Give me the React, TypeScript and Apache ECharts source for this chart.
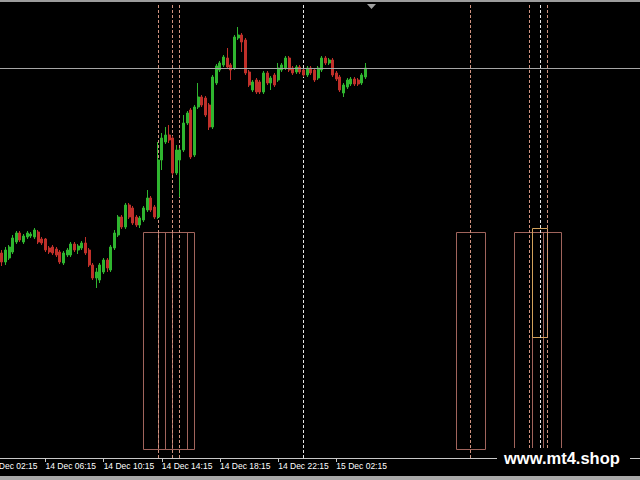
import { useEffect, useRef } from "react";
import * as echarts from "echarts";

// ---- time slots (15-minute bars) ----
const SLOT_COUNT = 176;
const FIRST_DAY = 14;
const FIRST_BAR_MINUTES = 3 * 60 + 15; // 14 Dec 03:15
const BAR_MINUTES = 15;

// ---- OHLC (price units) ----
const OPEN = [205, 196, 200, 206, 216, 225, 216, 221, 222, 221, 226, 219, 219, 210, 211, 209, 206, 195, 203, 203, 214, 208, 210, 215, 208, 193, 180, 178, 186, 198, 188, 210, 223, 241, 231, 253, 250, 241, 233, 238, 248, 260, 251, 241, 298, 316, 323, 320, 285, 298, 308, 335, 348, 303, 351, 361, 360, 353, 331, 375, 388, 393, 400, 393, 390, 420, 423, 418, 386, 368, 378, 376, 366, 385, 375, 383, 378, 388, 390, 400, 390, 386, 391, 388, 383, 390, 388, 380, 388, 400, 395, 398, 385, 381, 365, 371, 374, 379, 378, 375, 381];
const CLOSE = [196, 208, 211, 220, 225, 218, 222, 225, 224, 228, 216, 215, 208, 206, 205, 203, 196, 205, 208, 214, 208, 212, 215, 205, 193, 180, 186, 193, 198, 190, 211, 225, 241, 231, 253, 241, 235, 233, 240, 250, 260, 248, 241, 298, 320, 323, 318, 285, 308, 308, 335, 345, 301, 351, 361, 353, 343, 331, 381, 392, 395, 401, 391, 388, 421, 423, 416, 385, 373, 376, 366, 366, 385, 375, 380, 373, 390, 393, 400, 388, 385, 391, 386, 383, 390, 385, 378, 390, 400, 395, 398, 383, 379, 368, 373, 378, 379, 374, 374, 383, 390];
const LOW = [192, 193, 198, 204, 214, 216, 214, 219, 220, 219, 214, 213, 206, 204, 203, 201, 194, 193, 201, 201, 206, 204, 208, 203, 191, 178, 170, 175, 184, 186, 186, 208, 221, 229, 229, 239, 233, 231, 230, 236, 246, 246, 239, 239, 288, 314, 315, 283, 283, 261, 306, 333, 299, 301, 349, 351, 341, 328, 329, 373, 386, 391, 389, 378, 388, 418, 406, 383, 371, 366, 364, 364, 364, 373, 368, 371, 376, 386, 388, 386, 383, 384, 384, 381, 381, 383, 376, 378, 386, 393, 393, 381, 377, 366, 361, 369, 372, 372, 372, 373, 379];
const HIGH = [208, 211, 213, 223, 227, 227, 224, 227, 226, 230, 228, 221, 220, 212, 213, 211, 208, 207, 210, 216, 216, 214, 217, 221, 210, 195, 190, 195, 200, 200, 213, 228, 243, 243, 255, 255, 252, 243, 242, 252, 268, 262, 253, 316, 325, 331, 333, 322, 313, 310, 343, 347, 350, 353, 375, 363, 362, 355, 383, 394, 397, 403, 410, 395, 423, 431, 425, 420, 388, 378, 380, 378, 387, 387, 382, 385, 395, 395, 402, 402, 392, 393, 393, 390, 392, 392, 390, 392, 402, 402, 400, 400, 387, 383, 375, 380, 381, 381, 380, 385, 395];

// ---- axis ----
const Y_MIN = 0;
const Y_MAX = 458;
const TICK_FIRST = 12; // 14 Dec 06:15
const TICK_STEP = 16; // every 4 hours
const PREV_TICK_LABEL = "14 Dec 02:15";
const WATERMARK = "www.mt4.shop";

// ---- objects ----
const LEVEL_PRICE = 390;
const BOX_TOP = 226;
const BOX_BOTTOM = 9;
const BOXES = [
  [39, 47],
  [43, 51],
  [45, 53],
  [125, 133],
  [141, 149],
  [146, 154],
];
const HILITE = { from: 146, to: 150, top: 230, bottom: 121 };
const DASH_SALMON = [43, 47, 49, 129, 145, 150];
const DASH_WHITE = [83, 148];
const VLINE_TOP = 453;
const VLINE_BOTTOM = 0;

const CATEGORIES = Array.from({ length: SLOT_COUNT }, (_, i) => {
  const m = FIRST_BAR_MINUTES + i * BAR_MINUTES;
  const day = FIRST_DAY + Math.floor(m / 1440);
  const hh = Math.floor((m % 1440) / 60);
  const mm = m % 60;
  return `${day} Dec ${String(hh).padStart(2, "0")}:${String(mm).padStart(2, "0")}`;
});

const OHLC = OPEN.map((o, i) => [o, CLOSE[i], LOW[i], HIGH[i]]);
const LAST_BAR = OPEN.length - 1;

const showTick = (i: number) =>
  i >= TICK_FIRST && i <= LAST_BAR && (i - TICK_FIRST) % TICK_STEP === 0;

const LINES = [
  ...DASH_SALMON.map((x) => ({ x, color: "#cf927f" })),
  ...DASH_WHITE.map((x) => ({ x, color: "#e6e6e6" })),
];

const snap = (v: number) => Math.floor(v) + 0.5;

export default function App() {
  const ref = useRef<HTMLDivElement>(null);

  useEffect(() => {
    if (!ref.current) return;
    const chart = echarts.init(ref.current, undefined, { renderer: "svg" });

    const option: any = {
      animation: false,
      backgroundColor: "#000000",
      grid: { left: 0, right: 0, top: 0, bottom: 22, outerBoundsMode: "none" },
      xAxis: {
        type: "category",
        data: CATEGORIES,
        boundaryGap: true,
        axisLine: { show: true, lineStyle: { color: "#c8c8c8", width: 1 } },
        axisTick: {
          show: true,
          alignWithLabel: true,
          interval: (i: number) => showTick(i),
          length: 4,
          lineStyle: { color: "#c8c8c8" },
        },
        axisLabel: {
          show: true,
          interval: (i: number) => showTick(i),
          align: "left",
          color: "#ffffff",
          fontSize: 8.5,
          fontFamily: "Liberation Sans",
          margin: 3,
        },
        splitLine: { show: false },
      },
      yAxis: {
        type: "value",
        min: Y_MIN,
        max: Y_MAX,
        show: false,
        splitLine: { show: false },
      },
      series: [
        {
          type: "custom",
          name: "boxes",
          silent: true,
          clip: false,
          z: 1,
          data: BOXES.map((b) => [b[0], BOX_TOP]),
          renderItem: (params: any, api: any) => {
            const b = BOXES[params.dataIndex];
            const a = api.coord([b[0], BOX_TOP]);
            const c = api.coord([b[1], BOX_BOTTOM]);
            const x0 = snap(a[0]);
            const y0 = snap(a[1]);
            const x1 = snap(c[0]);
            const y1 = snap(c[1]);
            const children: any[] = [
              {
                type: "rect",
                shape: { x: x0, y: y0, width: x1 - x0, height: y1 - y0 },
                style: { fill: "none", stroke: "#a0645c", lineWidth: 1 },
              },
            ];
            if (params.dataIndex === BOXES.length - 1) {
              const h0 = api.coord([HILITE.from, HILITE.top]);
              const h1 = api.coord([HILITE.to, HILITE.bottom]);
              const hx0 = snap(h0[0]);
              const hy0 = snap(h0[1]);
              const hx1 = snap(h1[0]);
              const hy1 = snap(h1[1]);
              children.push({
                type: "rect",
                shape: { x: hx0, y: hy0, width: hx1 - hx0, height: hy1 - hy0 },
                style: { fill: "none", stroke: "#d2a25c", lineWidth: 1 },
              });
            }
            return { type: "group", children };
          },
        },
        {
          type: "custom",
          name: "vlines",
          silent: true,
          clip: false,
          z: 1,
          data: LINES.map((l) => [l.x, VLINE_TOP]),
          renderItem: (params: any, api: any) => {
            const l = LINES[params.dataIndex];
            const a = api.coord([l.x, VLINE_TOP]);
            const b = api.coord([l.x, VLINE_BOTTOM]);
            const x = snap(a[0]);
            return {
              type: "line",
              shape: { x1: x, y1: a[1], x2: x, y2: b[1] },
              style: { stroke: l.color, lineWidth: 1, lineDash: [3, 2] },
            };
          },
        },
        {
          type: "candlestick",
          name: "price",
          data: OHLC,
          barWidth: 2.5,
          z: 3,
          silent: true,
          itemStyle: {
            color: "#2fb52f",
            color0: "#c0302a",
            borderColor: "#2fb52f",
            borderColor0: "#c0302a",
            borderWidth: 1,
          },
          markLine: {
            silent: true,
            symbol: "none",
            label: { show: false },
            lineStyle: { color: "#a6a6a6", width: 1, type: "solid" },
            data: [{ yAxis: LEVEL_PRICE }],
          },
        },
      ],
      graphic: [
        { type: "rect", z: 100, shape: { x: 0, y: 0, width: 640, height: 2 }, style: { fill: "#9c9c9c" } },
        {
          type: "polygon",
          z: 100,
          shape: { points: [[367, 4], [376, 4], [371.5, 9]] },
          style: { fill: "#a0a0a0" },
        },
        { type: "rect", z: 100, shape: { x: 0, y: 476, width: 640, height: 4 }, style: { fill: "#a8a8a8" } },
        {
          type: "text",
          z: 100,
          x: -13,
          y: 461,
          style: {
            text: PREV_TICK_LABEL,
            fill: "#ffffff",
            fontSize: 8.5,
            fontFamily: "Liberation Sans",
            verticalAlign: "top",
            align: "left",
          },
        },
        { type: "rect", z: 100, shape: { x: 497, y: 448, width: 133, height: 20 }, style: { fill: "#000000" } },
        {
          type: "text",
          z: 101,
          x: 504,
          y: 458,
          style: {
            text: WATERMARK,
            fill: "#ffffff",
            fontSize: 16.5,
            fontWeight: "bold",
            fontFamily: "Liberation Sans",
            verticalAlign: "middle",
            align: "left",
          },
        },
      ],
    };

    chart.setOption(option);
    return () => chart.dispose();
  }, []);

  return (
    <div
      ref={ref}
      style={{ position: "fixed", left: 0, top: 0, width: 640, height: 480, background: "#000" }}
    />
  );
}
